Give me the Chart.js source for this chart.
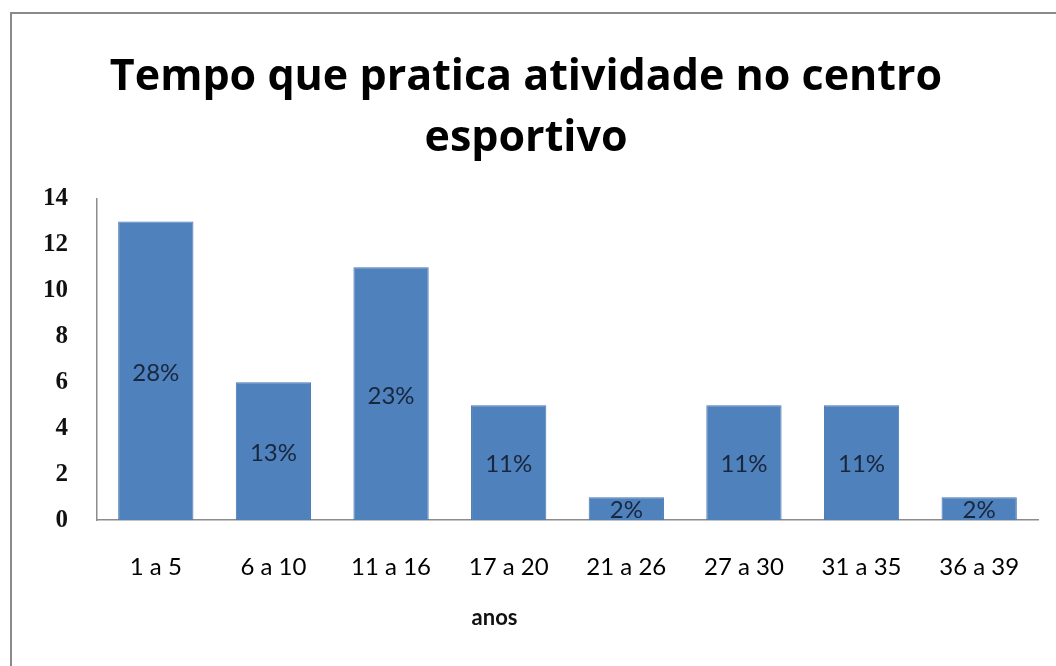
<!DOCTYPE html>
<html>
<head>
<meta charset="utf-8">
<script src="https://cdn.jsdelivr.net/npm/chart.js@4"></script>
<style>
  html, body { margin: 0; padding: 0; background: #fff; }
  #wrap { position: absolute; left: 10px; top: 12px; width: 1046px; height: 654px;
          border-left: 2px solid #8a8a8a; border-top: 2px solid #8a8a8a; box-sizing: border-box; }
  #box { position: absolute; left: 0; top: 0; width: 1056px; height: 666px; }
</style>
</head>
<body>
<div id="wrap"></div>
<div id="box"><canvas id="myChart" width="1056" height="666"></canvas></div>
<script>
// dados do grafico
var categorias = ['1 a 5', '6 a 10', '11 a 16', '17 a 20', '21 a 26', '27 a 30', '31 a 35', '36 a 39'];
var quantidade = [13, 6, 11, 5, 1, 5, 5, 1];
var percentuais = ['28%', '13%', '23%', '11%', '2%', '11%', '11%', '2%'];
var tituloLinhas = ['Tempo que pratica atividade no centro', 'esportivo'];
var tituloEixoX = 'anos';

// rotulo de porcentagem no meio da barra + titulo do eixo x (deslocado p/ esquerda como no original)
var rotulos = {
  id: 'rotulos',
  afterDatasetsDraw: function(chart) {
    var ctx = chart.ctx;
    var meta = chart.getDatasetMeta(0);
    ctx.save();
    ctx.font = '24px Lato, "Open Sans", sans-serif';
    ctx.fillStyle = '#18273d';
    ctx.textAlign = 'center';
    ctx.textBaseline = 'middle';
    meta.data.forEach(function(bar, i) {
      var p = bar.getProps(['x', 'y', 'base'], true);
      ctx.fillText(percentuais[i], p.x, (p.y + p.base) / 2 + 2);
    });
    // "anos"
    var area = chart.chartArea;
    ctx.font = 'bold 22px Lato, sans-serif';
    ctx.fillStyle = '#111';
    ctx.fillText(tituloEixoX, (area.left + area.right) / 2 - 73, area.bottom + 98);
    ctx.restore();
  }
};

const myCt = document.getElementById('myChart');
new Chart(myCt, {
  type: 'bar',
  data: {
    labels: categorias,
    datasets: [{
      data: quantidade,
      backgroundColor: '#4f81bd',
      borderColor: '#4575b0',
      borderWidth: 1,
      categoryPercentage: 0.64,
      barPercentage: 1
    }]
  },
  options: {
    responsive: false,
    animation: false,
    layout: { padding: { left: 14, right: 18, top: 48, bottom: 51 } },
    plugins: {
      legend: { display: false },
      tooltip: { enabled: false },
      title: {
        display: true,
        text: tituloLinhas,
        color: '#000',
        font: { family: '"Open Sans", sans-serif', size: 43, weight: 'bold', lineHeight: 1.4 },
        padding: { top: 0, bottom: 30 }
      }
    },
    scales: {
      x: {
        grid: { display: false, drawTicks: false },
        border: { color: '#8c8c8c', width: 1.5 },
        ticks: { color: '#000', font: { family: 'Lato, sans-serif', size: 24 }, padding: 33 }
      },
      y: {
        min: 0,
        max: 14,
        grid: { display: false, drawTicks: false },
        border: { color: '#8c8c8c', width: 1.5 },
        ticks: { stepSize: 2, color: '#111', padding: 29,
                 font: { family: '"Liberation Serif", serif', size: 25, weight: 'bold' } }
      }
    }
  },
  plugins: [rotulos]
});
</script>
</body>
</html>
